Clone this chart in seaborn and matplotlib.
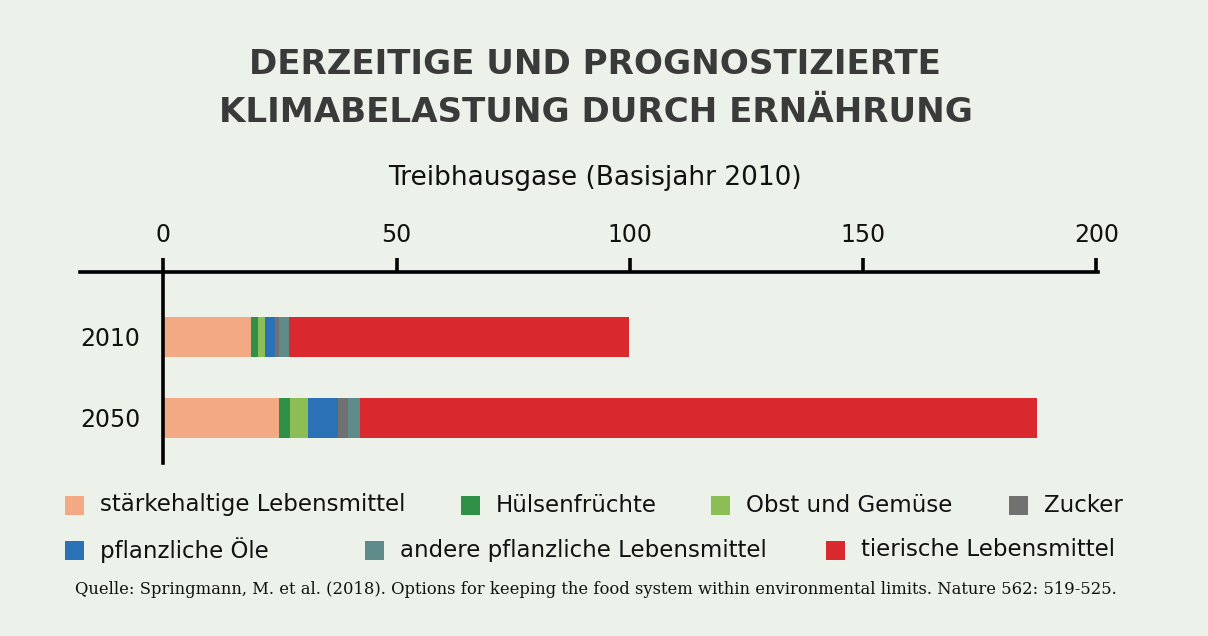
import numpy as np
import pandas as pd
import seaborn as sns
import matplotlib.pyplot as plt
from matplotlib.patches import Rectangle

# data (greenhouse gases, base year 2010 = 100)
years = ['2010', '2050']
categories = ['stärkehaltige Lebensmittel', 'Hülsenfrüchte', 'Obst und Gemüse',
              'Zucker', 'pflanzliche Öle', 'andere pflanzliche Lebensmittel',
              'tierische Lebensmittel']
# stacking order inside the bar (left to right)
stack_order = ['stärkehaltige Lebensmittel', 'Hülsenfrüchte', 'Obst und Gemüse',
               'pflanzliche Öle', 'Zucker', 'andere pflanzliche Lebensmittel',
               'tierische Lebensmittel']
values_2010 = [18.9, 1.35, 1.5, 2.15, 0.86, 2.15, 72.9]
values_2050 = [24.7, 2.4, 3.9, 6.4, 2.2, 2.6, 145.1]
x_ticks = [0, 50, 100, 150, 200]

colors = {'stärkehaltige Lebensmittel': '#f2a984',
          'Hülsenfrüchte': '#2e9147',
          'Obst und Gemüse': '#8bbf56',
          'Zucker': '#717171',
          'pflanzliche Öle': '#2a72b5',
          'andere pflanzliche Lebensmittel': '#5e8a8a',
          'tierische Lebensmittel': '#d9292f'}

bg = '#ecf1ea'
sns.set_theme(style='white')
plt.rcParams['font.family'] = ['DejaVu Sans']

df = pd.DataFrame({'year': years})
for cat, v10, v50 in zip(stack_order, values_2010, values_2050):
    df[cat] = [v10, v50]
cum = df[stack_order].cumsum(axis=1)

fig = plt.figure(figsize=(12.08, 6.36), dpi=100, facecolor=bg)
W, H = 1208, 636
ax = fig.add_axes([80 / W, 1 - 463 / H, (1098 - 80) / W, (463 - 272) / H])
ax.set_facecolor(bg)

# draw cumulative totals back to front to get stacked bars
for cat in reversed(stack_order):
    sns.barplot(data=cum.assign(year=years), x=cat, y='year', orient='h',
                color=colors[cat], saturation=1, width=0.49, linewidth=0, ax=ax)

ax.set_xlim(-17.86, 200.35)
ax.set_ylim(1.556, -0.802)
ax.set_xlabel('')
ax.set_ylabel('')

for s in ['bottom', 'right']:
    ax.spines[s].set_visible(False)
ax.spines['top'].set_linewidth(2.6)
ax.spines['top'].set_color('black')
ax.spines['left'].set_position(('data', 0))
ax.spines['left'].set_linewidth(2.6)
ax.spines['left'].set_color('black')

ax.xaxis.tick_top()
ax.set_xticks(x_ticks)
ax.set_xticklabels([str(t) for t in x_ticks])
ax.tick_params(axis='x', direction='out', length=10, width=2.6, color='black',
               pad=8, labelsize=17, labelcolor='#111111')
ax.tick_params(axis='y', length=0, pad=60, labelsize=17, labelcolor='#111111')
for lab in ax.get_yticklabels():
    lab.set_horizontalalignment('left')

# titles
fig.text(595 / W, 1 - 65 / H, 'DERZEITIGE UND PROGNOSTIZIERTE', ha='center',
         va='center', fontsize=24.6, fontweight='bold', color='#3a3a3a')
fig.text(596 / W, 1 - 113 / H, 'KLIMABELASTUNG DURCH ERNÄHRUNG', ha='center',
         va='center', fontsize=24.6, fontweight='bold', color='#3a3a3a')
fig.text(595 / W, 1 - 178 / H, 'Treibhausgase (Basisjahr 2010)', ha='center',
         va='center', fontsize=19, color='#111111')

# legend laid out like the reference (two flowing rows)
legend_pos = {'stärkehaltige Lebensmittel': (65, 505),
              'Hülsenfrüchte': (461, 505),
              'Obst und Gemüse': (711, 505),
              'Zucker': (1009, 505),
              'pflanzliche Öle': (65, 550),
              'andere pflanzliche Lebensmittel': (365, 550),
              'tierische Lebensmittel': (826, 550)}
sq = 19
for cat in categories:
    px, py = legend_pos[cat]
    fig.patches.append(Rectangle((px / W, 1 - (py + sq / 2) / H), sq / W, sq / H,
                                 transform=fig.transFigure, color=colors[cat],
                                 linewidth=0))
    fig.text((px + 35) / W, 1 - py / H, cat, ha='left', va='center',
             fontsize=16.5, color='#111111')

fig.text(596 / W, 1 - 590 / H,
         'Quelle: Springmann, M. et al. (2018). Options for keeping the food system '
         'within environmental limits. Nature 562: 519-525.',
         ha='center', va='center', fontsize=11.75, family='DejaVu Serif',
         color='#111111')

fig.savefig('out.png', dpi=100, facecolor=bg)
